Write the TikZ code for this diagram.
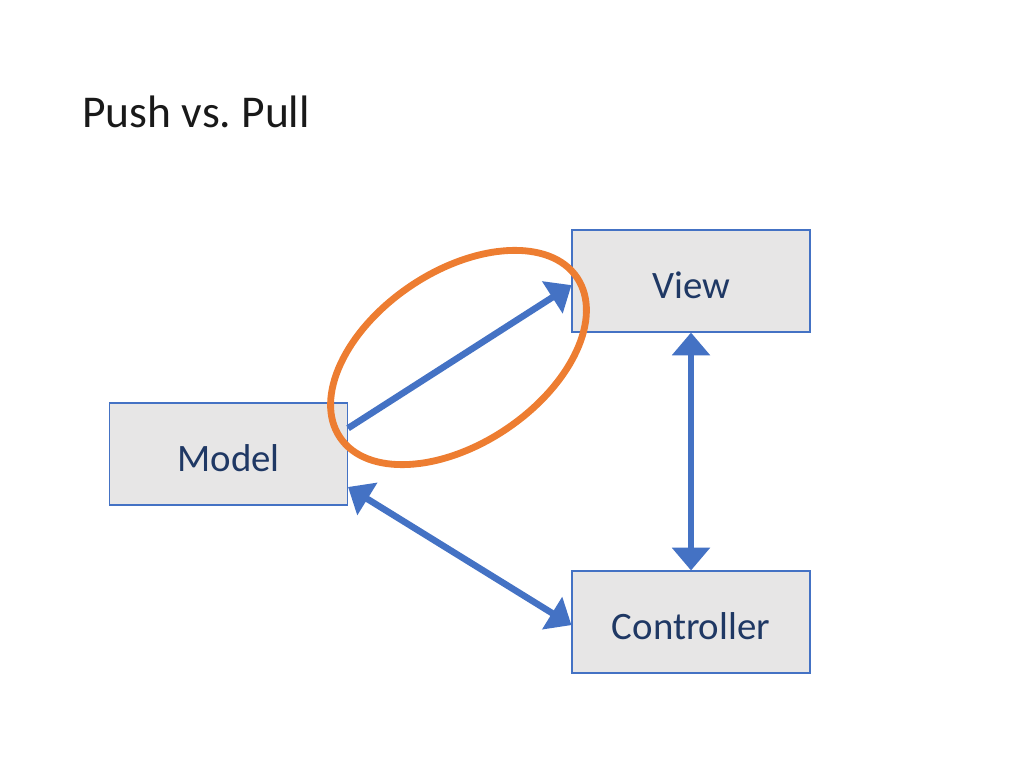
\documentclass[tikz,border=0pt]{standalone}
\usepackage{fontspec}
\setmainfont{Carlito}
\usetikzlibrary{arrows.meta,calc}
\definecolor{boxfill}{HTML}{E7E6E6}
\definecolor{boxline}{HTML}{4472C4}
\definecolor{arrowblue}{HTML}{4472C4}
\definecolor{textblue}{HTML}{1F3864}
\definecolor{ringorange}{HTML}{ED7D31}
\begin{document}
\begin{tikzpicture}[x=0.703125pt,y=-0.703125pt,
  mvcbox/.style={draw=boxline,line width=0.8pt,fill=boxfill,minimum width=167.3pt,minimum height=71.7pt,inner sep=0pt,text height=25pt,font=\fontsize{27.3}{32}\selectfont,text=textblue},
  link/.style={draw=arrowblue,line width=4.6pt},
  tip/.style={-{Triangle[length=16pt,width=26pt]}},
  bitip/.style={{Triangle[length=16pt,width=26pt]}-{Triangle[length=16pt,width=26pt]}}]
\useasboundingbox (0,0) rectangle (1024,768);
\node[anchor=base west,inner sep=0pt,font=\fontsize{32}{38}\selectfont,text=black!90] (title) at (82,128) {Push vs.\ Pull};
\node[mvcbox] (view) at (691,281) {View};
\node[mvcbox] (model) at (228.5,454) {Model};
\node[mvcbox] (controller) at (691,622) {Controller};
\draw[link,tip] ($(model.north east)!0.25!(model.south east)$) -- ($(view.north west)!0.54!(view.south west)$);
\draw[link,bitip] ($(model.north east)!0.82!(model.south east)$) -- ($(controller.north west)!0.53!(controller.south west)$);
\draw[link,bitip] (view.south) -- (controller.north);
\coordinate (ringc) at (458.5,357.5);
\draw[ringorange,line width=4.8pt,rotate around={34:(ringc)}] (ringc) ellipse [x radius=100.5pt,y radius=60.5pt];
\end{tikzpicture}
\end{document}
